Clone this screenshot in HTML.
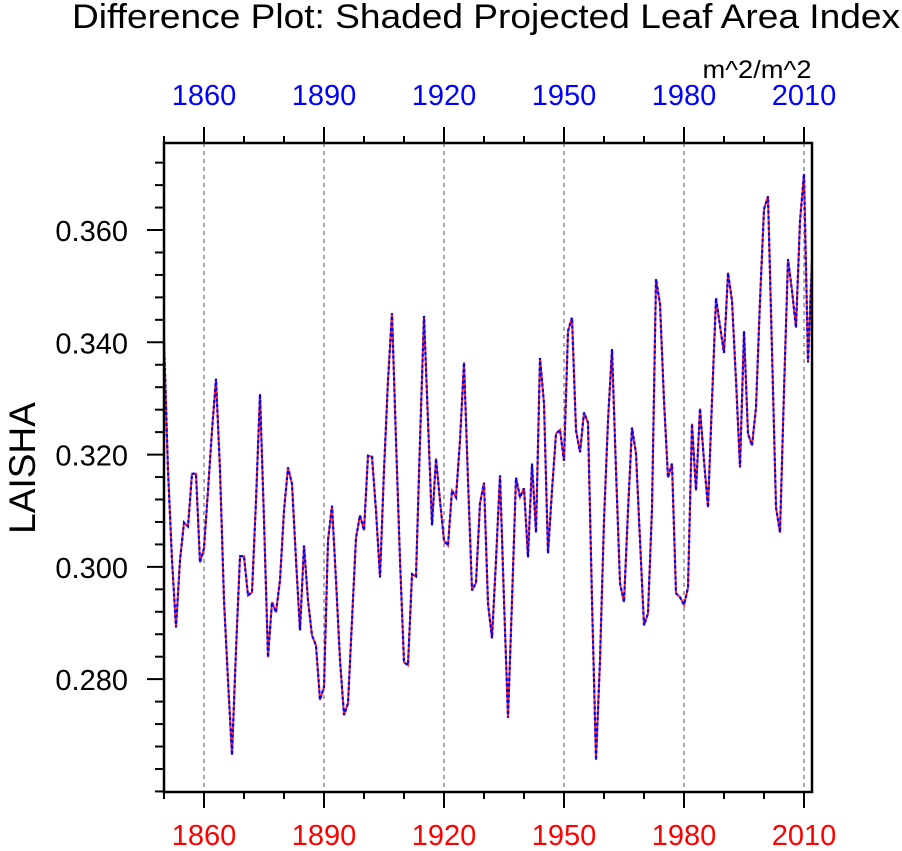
<!DOCTYPE html>
<html><head><meta charset="utf-8"><style>
body{margin:0;background:#fff;}
svg{display:block;font-family:"Liberation Sans",Arial,sans-serif;}
</style></head><body>
<svg id="chart" width="902" height="851" viewBox="0 0 902 851" xmlns="http://www.w3.org/2000/svg">
<text x="486" y="28" font-size="34" text-anchor="middle" textLength="828" lengthAdjust="spacingAndGlyphs">Difference Plot: Shaded Projected Leaf Area Index</text>
<text x="757" y="78" font-size="25" text-anchor="middle" textLength="109" lengthAdjust="spacingAndGlyphs">m^2/m^2</text>
<text x="0" y="0" font-size="37" text-anchor="middle" transform="translate(35,468) rotate(-90)">LAISHA</text>
<g id="grid"></g>
<g id="series"></g>
<g id="axes"></g>
</svg>
<script>
const startYear = 1850;
const laisha = [0.3403,0.3172,0.3012,0.2892,0.3012,0.3079,0.3072,0.3166,0.3166,0.3008,
0.3033,0.3136,0.3243,0.3335,0.3172,0.2940,0.2798,0.2665,0.2852,0.3019,
0.3019,0.2949,0.2955,0.3118,0.3308,0.3083,0.2839,0.2937,0.2919,0.2976,
0.3100,0.3177,0.3148,0.3012,0.2887,0.3038,0.2940,0.2878,0.2860,0.2763,
0.2786,0.3047,0.3109,0.2976,0.2834,0.2736,0.2757,0.2905,0.3052,0.3092,
0.3065,0.3198,0.3196,0.3100,0.2981,0.3172,0.3332,0.3452,0.3225,0.3012,
0.2830,0.2825,0.2987,0.2983,0.3225,0.3447,0.3260,0.3074,0.3193,0.3118,
0.3047,0.3038,0.3136,0.3124,0.3225,0.3364,0.3154,0.2958,0.2972,0.3113,
0.3150,0.2935,0.2873,0.3012,0.3163,0.2940,0.2731,0.2940,0.3159,0.3124,
0.3140,0.3017,0.3184,0.3061,0.3372,0.3291,0.3024,0.3136,0.3237,0.3244,
0.3189,0.3420,0.3444,0.3243,0.3204,0.3275,0.3257,0.2940,0.2656,0.2834,
0.3083,0.3260,0.3388,0.3172,0.2971,0.2937,0.3100,0.3248,0.3202,0.3047,
0.2896,0.2917,0.3104,0.3513,0.3468,0.3296,0.3159,0.3184,0.2953,0.2946,
0.2932,0.2963,0.3255,0.3136,0.3282,0.3189,0.3106,0.3296,0.3479,0.3429,
0.3381,0.3524,0.3474,0.3332,0.3177,0.3420,0.3237,0.3216,0.3284,0.3474,
0.3637,0.3660,0.3385,0.3106,0.3061,0.3314,0.3548,0.3492,0.3426,0.3616,
0.3700,0.3364,0.3545];
const xMajorTicks = [1860,1890,1920,1950,1980,2010];
const yTickValues = [0.280,0.300,0.320,0.340,0.360];
const yTickLabels = ["0.280","0.300","0.320","0.340","0.360"];

const L=164,R=812,T=143,B=792;
const X0=1850,X1=2012,Y0=0.2599,Y1=0.3755;
function xs(v){return L+(v-X0)*(R-L)/(X1-X0);}
function ys(v){return B-(v-Y0)*(B-T)/(Y1-Y0);}
const NS="http://www.w3.org/2000/svg";
function mk(tag,attrs,parent){const e=document.createElementNS(NS,tag);for(const k in attrs)e.setAttribute(k,attrs[k]);parent.appendChild(e);return e;}
const grid=document.getElementById('grid'),series=document.getElementById('series'),axes=document.getElementById('axes');

xMajorTicks.forEach(t=>{
  const g=mk('line',{x1:xs(t),x2:xs(t),y1:T,y2:B,stroke:'#777','stroke-width':1.3,'stroke-dasharray':'4,4'},grid);
  
  
});

let pts=laisha.map((v,i)=>xs(startYear+i).toFixed(1)+','+ys(v).toFixed(1)).join(' ');
const red=mk('polyline',{points:pts,fill:'none',stroke:'#ff2020','stroke-width':2},series);


const blue=mk('polyline',{points:pts,fill:'none',stroke:'#0000ff','stroke-width':2.2,'stroke-dasharray':'3,2.5'},series);



const frame=mk('rect',{x:L,y:T,width:R-L,height:B-T,fill:'none',stroke:'#000','stroke-width':2.5},axes);



for(let yr=1850;yr<=2012;yr+=10){
  const major=xMajorTicks.includes(yr);
  const len=major?16:7;
  const tb=mk('line',{x1:xs(yr),x2:xs(yr),y1:B,y2:B+len,stroke:'#000','stroke-width':2},axes);
  
  
  const tt=mk('line',{x1:xs(yr),x2:xs(yr),y1:T,y2:T-len,stroke:'#000','stroke-width':2},axes);
  
  
}
xMajorTicks.forEach(t=>{
  const b=mk('text',{x:xs(t),y:845,'font-size':29,'text-anchor':'middle',fill:'#ff0000'},axes);
  b.textContent=t;
  
  
  const u=mk('text',{x:xs(t),y:105,'font-size':29,'text-anchor':'middle',fill:'#0000ff'},axes);
  u.textContent=t;
  
  
});
for(let k=0;k<40;k++){
  const v=0.260+k*0.004;
  if(v<Y0||v>Y1)continue;
  const major=yTickValues.some(m=>Math.abs(m-v)<1e-6);
  const len=major?17:9;
  const tl=mk('line',{x1:L,x2:L-len,y1:ys(v),y2:ys(v),stroke:'#000','stroke-width':2},axes);
  
  
}
yTickValues.forEach((v,i)=>{
  const t=mk('text',{x:128,y:ys(v)+11,'font-size':29,'text-anchor':'end',fill:'#000'},axes);
  t.textContent=yTickLabels[i];
  
  
});
</script>
</body></html>
